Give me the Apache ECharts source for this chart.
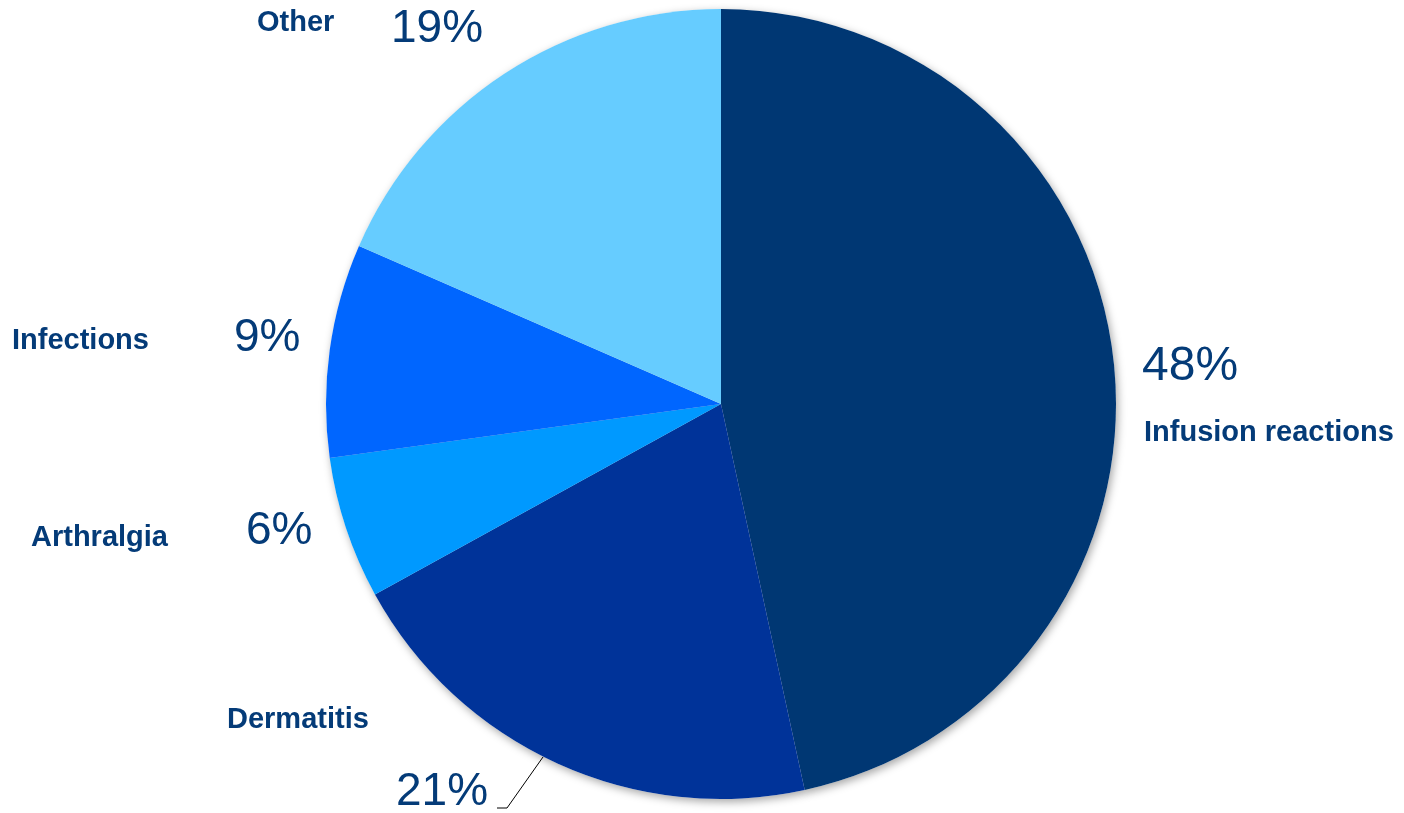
<!DOCTYPE html>
<html>
<head>
<meta charset="utf-8">
<script src="https://cdn.jsdelivr.net/npm/echarts@6/dist/echarts.min.js"></script>
<style>
  html, body { margin: 0; padding: 0; background: #ffffff; }
  #chart { width: 1404px; height: 813px; }
</style>
</head>
<body>
<div id="chart"></div>
<script>
// Adverse event categories, clockwise from 12 o'clock
var categories = ['Infusion reactions', 'Dermatitis', 'Arthralgia', 'Infections', 'Other'];
var shares = [48, 21, 6, 9, 19];
var sliceColors = ['#003773', '#003399', '#0099ff', '#0066ff', '#66ccff'];

var textColor = '#043b78';
var fontFamily = '"Liberation Sans", Arial, Helvetica, sans-serif';

// Label anchor points (left edge x, vertical middle y) for the names and the percentages
var nameSpots = [[1144, 433], [227, 720], [31, 538], [12, 341], [257, 23]];
var pctSpots = [[1142, 367], [396, 792], [246, 531], [234, 338], [391, 29]];
var pctSizes = [48, 46, 46, 46, 46];
var dermatitisGuide = [[543, 757], [507, 808], [497, 808]];

var center = [721, 404];
var radius = 395;

var chart = echarts.init(document.getElementById('chart'), null, { renderer: 'canvas' });

var sliceData = categories.map(function (name, i) {
  return { name: name, value: shares[i], itemStyle: { color: sliceColors[i] } };
});

var pctData = categories.map(function (name, i) {
  var item = { name: name, value: shares[i], label: { fontSize: pctSizes[i] } };
  if (i === 1) {
    item.labelLine = { show: true, lineStyle: { color: '#000000', width: 1 } };
  }
  return item;
});

chart.setOption({
  animation: false,
  backgroundColor: '#ffffff',
  series: [
    {
      // backdrop disc casting the soft shadow, carries the percentage labels
      type: 'pie',
      center: center,
      radius: radius,
      startAngle: 90,
      clockwise: true,
      avoidLabelOverlap: false,
      silent: true,
      z: 1,
      data: pctData,
      itemStyle: {
        color: '#ffffff',
        borderWidth: 0,
        shadowBlur: 8,
        shadowOffsetX: 2,
        shadowOffsetY: 3,
        shadowColor: 'rgba(0,0,0,0.35)'
      },
      label: {
        show: true,
        position: 'outside',
        formatter: '{c}%',
        color: textColor,
        fontFamily: fontFamily,
        fontSize: 46,
        fontWeight: 'normal'
      },
      labelLine: { show: false },
      labelLayout: function (p) {
        var s = pctSpots[p.dataIndex];
        var out = { x: s[0], y: s[1], align: 'left', verticalAlign: 'middle' };
        if (p.dataIndex === 1) out.labelLinePoints = dermatitisGuide;
        return out;
      }
    },
    {
      // coloured slices with category names
      type: 'pie',
      center: center,
      radius: radius,
      startAngle: 90,
      clockwise: true,
      avoidLabelOverlap: false,
      z: 2,
      data: sliceData,
      itemStyle: { borderWidth: 0 },
      emphasis: { disabled: true },
      label: {
        show: true,
        position: 'outside',
        formatter: '{b}',
        color: textColor,
        fontFamily: fontFamily,
        fontSize: 29,
        fontWeight: 'bold'
      },
      labelLine: { show: false },
      labelLayout: function (p) {
        var s = nameSpots[p.dataIndex];
        return { x: s[0], y: s[1], align: 'left', verticalAlign: 'middle' };
      }
    }
  ]
});
</script>
</body>
</html>
